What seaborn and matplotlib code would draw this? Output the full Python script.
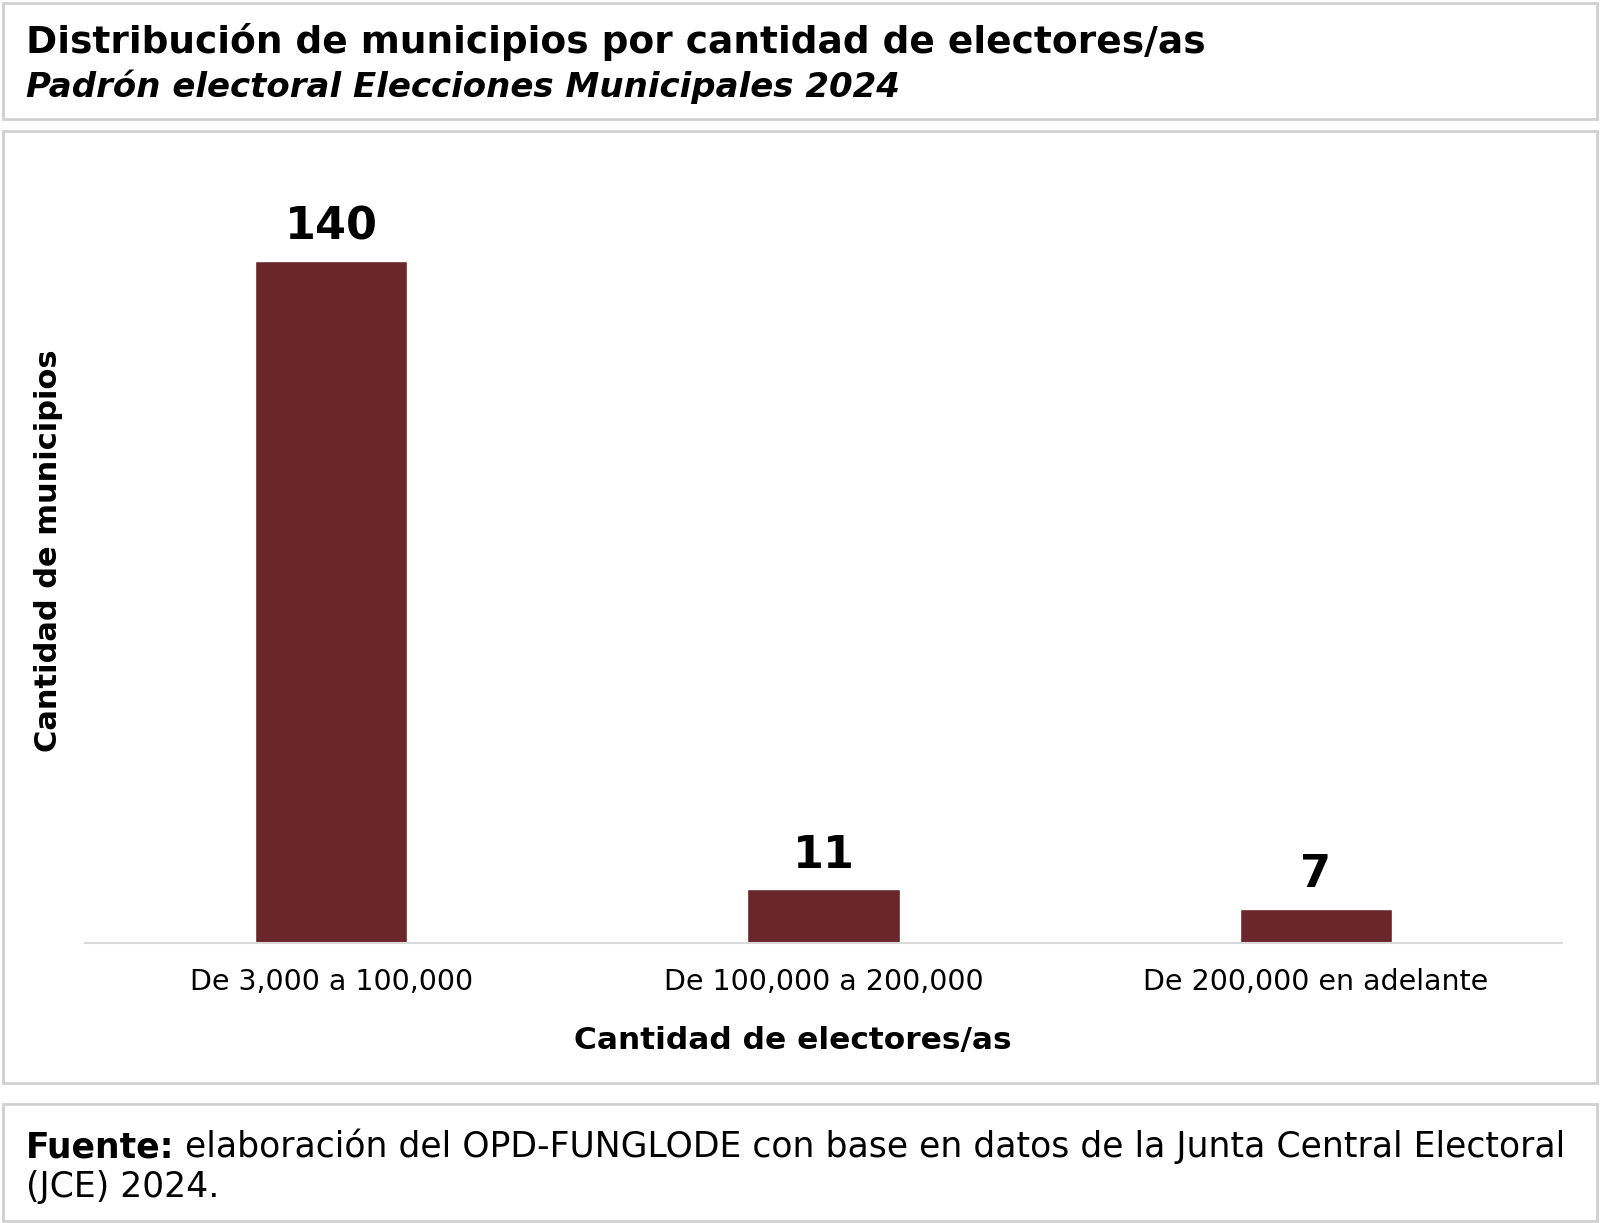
import matplotlib
matplotlib.use("Agg")
import matplotlib.pyplot as plt
from matplotlib.patches import Rectangle
import pandas as pd
import seaborn as sns

# Datos
categorias = ["De 3,000 a 100,000", "De 100,000 a 200,000", "De 200,000 en adelante"]
municipios = [140, 11, 7]

titulo = "Distribución de municipios por cantidad de electores/as"
subtitulo = "Padrón electoral Elecciones Municipales 2024"
fuente_bold = "Fuente:"
fuente_texto = " elaboración del OPD-FUNGLODE con base en datos de la Junta Central Electoral"
fuente_linea2 = "(JCE) 2024."

BAR_COLOR = "#6B262B"
BORDER = "#d0d0d0"
W, H = 1600, 1223

sns.set_theme(style="white")
plt.rcParams["font.family"] = ["DejaVu Sans"]
plt.rcParams["text.color"] = "black"

df = pd.DataFrame({"rango": categorias, "municipios": municipios})

fig = plt.figure(figsize=(W / 100, H / 100), dpi=100)
fig.patch.set_facecolor("white")


def fx(px):
    return px / W


def fy(py):
    return 1 - py / H


# marcos grises
for x0, y0, x1, y1 in [(3, 3, 1597, 119), (3, 131, 1597, 1083), (3, 1104, 1597, 1221)]:
    fig.patches.append(Rectangle((fx(x0), fy(y1)), fx(x1) - fx(x0), fy(y0) - fy(y1),
                                 transform=fig.transFigure, fill=False,
                                 edgecolor=BORDER, linewidth=2))

ax = fig.add_axes([fx(85), fy(943), fx(1562) - fx(85), fy(164) - fy(943)])
sns.barplot(data=df, x="rango", y="municipios", color=BAR_COLOR, saturation=1,
            width=0.31, ax=ax)
ax.set_xlim(-0.5, 2.5)
ax.set_ylim(0, 160)
ax.set_yticks([])
ax.set_xlabel("")
ax.set_ylabel("")
for s in ["top", "right", "left"]:
    ax.spines[s].set_visible(False)
ax.spines["bottom"].set_color("#d9d9d9")
ax.spines["bottom"].set_linewidth(1.5)
ax.tick_params(axis="x", length=0, pad=18, labelsize=20.5, labelcolor="black")
ax.bar_label(ax.containers[0], padding=9, fontsize=32, fontweight="bold", color="black")

fig.text(fx(793), fy(1041), "Cantidad de electores/as", ha="center", va="center",
         fontsize=22.5, fontweight="bold")
fig.text(fx(49), fy(551), "Cantidad de municipios", ha="center", va="center",
         rotation=90, fontsize=22, fontweight="bold")

fig.text(fx(26), fy(53), titulo, ha="left", va="baseline", fontsize=27, fontweight="bold")
fig.text(fx(26), fy(97), subtitulo, ha="left", va="baseline", fontsize=24.5,
         fontweight="bold", style="italic")

r = fig.canvas.get_renderer()
t = fig.text(fx(26), fy(1157), fuente_bold, ha="left", va="baseline", fontsize=24.9,
             fontweight="bold")
bb = t.get_window_extent(renderer=r)
fig.text(bb.x1 / W, fy(1157), fuente_texto, ha="left", va="baseline", fontsize=24.9)
fig.text(fx(26), fy(1197), fuente_linea2, ha="left", va="baseline", fontsize=24.9)

fig.savefig("out.png", dpi=100, facecolor="white")
